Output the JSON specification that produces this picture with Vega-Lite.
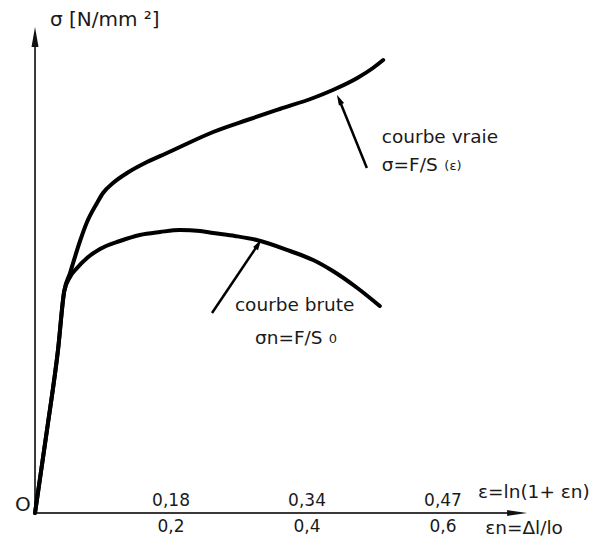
{
  "$schema": "https://vega.github.io/schema/vega-lite/v6.json",
  "width": 589,
  "height": 540,
  "padding": 0,
  "autosize": {"type": "none"},
  "background": "white",
  "config": {"view": {"stroke": null}},
  "datasets": {
    "curves": [
      {"c": "vraie", "i": 0, "en": 0, "s": 0},
      {"c": "vraie", "i": 1, "en": 0.0176, "s": 83},
      {"c": "vraie", "i": 2, "en": 0.0338, "s": 163},
      {"c": "vraie", "i": 3, "en": 0.043, "s": 222},
      {"c": "vraie", "i": 4, "en": 0.0515, "s": 240},
      {"c": "vraie", "i": 6, "en": 0.0662, "s": 272},
      {"c": "vraie", "i": 7, "en": 0.0765, "s": 291},
      {"c": "vraie", "i": 8, "en": 0.0912, "s": 310},
      {"c": "vraie", "i": 9, "en": 0.1, "s": 320},
      {"c": "vraie", "i": 10, "en": 0.1147, "s": 330},
      {"c": "vraie", "i": 11, "en": 0.1353, "s": 340},
      {"c": "vraie", "i": 12, "en": 0.1647, "s": 351},
      {"c": "vraie", "i": 13, "en": 0.194, "s": 360},
      {"c": "vraie", "i": 14, "en": 0.213, "s": 366},
      {"c": "vraie", "i": 15, "en": 0.262, "s": 381},
      {"c": "vraie", "i": 16, "en": 0.312, "s": 393},
      {"c": "vraie", "i": 17, "en": 0.36, "s": 404},
      {"c": "vraie", "i": 18, "en": 0.409, "s": 415},
      {"c": "vraie", "i": 19, "en": 0.438, "s": 423},
      {"c": "vraie", "i": 20, "en": 0.474, "s": 435},
      {"c": "vraie", "i": 21, "en": 0.497, "s": 445},
      {"c": "vraie", "i": 22, "en": 0.512, "s": 453},
      {"c": "brute", "i": 0, "en": 0, "s": 0},
      {"c": "brute", "i": 1, "en": 0.0176, "s": 83},
      {"c": "brute", "i": 2, "en": 0.0338, "s": 163},
      {"c": "brute", "i": 3, "en": 0.043, "s": 222},
      {"c": "brute", "i": 4, "en": 0.0515, "s": 236},
      {"c": "brute", "i": 5, "en": 0.0618, "s": 245},
      {"c": "brute", "i": 6, "en": 0.0765, "s": 255},
      {"c": "brute", "i": 7, "en": 0.0956, "s": 264},
      {"c": "brute", "i": 8, "en": 0.125, "s": 272},
      {"c": "brute", "i": 9, "en": 0.154, "s": 278},
      {"c": "brute", "i": 10, "en": 0.184, "s": 281},
      {"c": "brute", "i": 11, "en": 0.213, "s": 283},
      {"c": "brute", "i": 12, "en": 0.243, "s": 282},
      {"c": "brute", "i": 13, "en": 0.262, "s": 280},
      {"c": "brute", "i": 14, "en": 0.294, "s": 277},
      {"c": "brute", "i": 15, "en": 0.326, "s": 273},
      {"c": "brute", "i": 16, "en": 0.375, "s": 262},
      {"c": "brute", "i": 17, "en": 0.409, "s": 253},
      {"c": "brute", "i": 18, "en": 0.438, "s": 242},
      {"c": "brute", "i": 19, "en": 0.474, "s": 225},
      {"c": "brute", "i": 20, "en": 0.507, "s": 207}
    ],
    "axes": [
      {"a": "x", "en": 0, "s": 0, "en2": 0.70, "s2": 0},
      {"a": "y", "en": 0, "s": 0, "en2": 0, "s2": 470}
    ],
    "axisheads": [
      {"a": "x", "en": 0.709, "s": 0},
      {"a": "y", "en": 0, "s": 476}
    ],
    "pointers": [
      {"c": "vraie", "en": 0.488, "s": 345, "en2": 0.4473, "s2": 413.5},
      {"c": "brute", "en": 0.2603, "s": 200, "en2": 0.3284, "s2": 268.8}
    ],
    "ticks": [
      {"row": "eps", "lab": "0,18", "en": 0.2, "s": 0},
      {"row": "eps", "lab": "0,34", "en": 0.4, "s": 0},
      {"row": "eps", "lab": "0,47", "en": 0.6, "s": 0},
      {"row": "epsn", "lab": "0,2", "en": 0.2, "s": 0},
      {"row": "epsn", "lab": "0,4", "en": 0.4, "s": 0},
      {"row": "epsn", "lab": "0,6", "en": 0.6, "s": 0}
    ],
    "labels": [
      {"k": "main", "t": "courbe vraie", "en": 0.510, "s": 376},
      {"k": "main", "t": "σ=F/S", "en": 0.510, "s": 348},
      {"k": "small", "t": "(ε)", "en": 0.602, "s": 347},
      {"k": "main", "t": "courbe brute", "en": 0.294, "s": 208},
      {"k": "main", "t": "σn=F/S", "en": 0.3235, "s": 175},
      {"k": "small", "t": "0", "en": 0.432, "s": 174},
      {"k": "main", "t": "ε=ln(1+ εn)", "en": 0.6515, "s": 21},
      {"k": "main", "t": "εn=Δl/lo", "en": 0.662, "s": -15},
      {"k": "big", "t": "O", "en": -0.0294, "s": 8},
      {"k": "big", "t": "σ [N/mm ²]", "en": 0.022, "s": 493}
    ]
  },
  "encoding": {
    "x": {"field": "en", "type": "quantitative", "axis": null, "scale": {"domain": [-0.0515, 0.8147], "nice": false, "zero": false}},
    "y": {"field": "s", "type": "quantitative", "axis": null, "scale": {"domain": [-27, 513], "nice": false, "zero": false}}
  },
  "layer": [
    {
      "data": {"name": "axes"},
      "mark": {"type": "rule", "color": "#3a3a3a", "strokeWidth": 2},
      "encoding": {"x2": {"field": "en2"}, "y2": {"field": "s2"}}
    },
    {
      "data": {"name": "axisheads"},
      "transform": [{"filter": "datum.a === 'y'"}],
      "mark": {"type": "point", "shape": "M0,-1L-0.35,1L0.35,1Z", "filled": true, "color": "#111", "opacity": 1, "size": 400, "angle": 0}
    },
    {
      "data": {"name": "axisheads"},
      "transform": [{"filter": "datum.a === 'x'"}],
      "mark": {"type": "point", "shape": "M0,-1L-0.3,1L0.3,1Z", "filled": true, "color": "#111", "opacity": 1, "size": 400, "angle": 90}
    },
    {
      "data": {"name": "curves"},
      "mark": {"type": "line", "color": "black", "strokeWidth": 4, "interpolate": "monotone", "strokeCap": "round", "strokeJoin": "round"},
      "encoding": {"detail": {"field": "c"}, "order": {"field": "i", "type": "quantitative"}}
    },
    {
      "data": {"name": "pointers"},
      "mark": {"type": "rule", "color": "black", "strokeWidth": 2.5},
      "encoding": {"x2": {"field": "en2"}, "y2": {"field": "s2"}}
    },
    {
      "data": {"name": "pointers"},
      "transform": [{"filter": "datum.c === 'vraie'"}],
      "mark": {"type": "point", "shape": "M0,-1L-0.55,1L0.55,1Z", "filled": true, "color": "black", "opacity": 1, "size": 110, "angle": 334},
      "encoding": {"x": {"field": "en2", "type": "quantitative"}, "y": {"field": "s2", "type": "quantitative"}}
    },
    {
      "data": {"name": "pointers"},
      "transform": [{"filter": "datum.c === 'brute'"}],
      "mark": {"type": "point", "shape": "M0,-1L-0.55,1L0.55,1Z", "filled": true, "color": "black", "opacity": 1, "size": 110, "angle": 32},
      "encoding": {"x": {"field": "en2", "type": "quantitative"}, "y": {"field": "s2", "type": "quantitative"}}
    },
    {
      "data": {"name": "ticks"},
      "transform": [{"filter": "datum.row === 'eps'"}],
      "mark": {"type": "text", "font": "DejaVu Sans", "fontSize": 17, "color": "#1a1a1a", "align": "center", "baseline": "middle", "dy": -12},
      "encoding": {"text": {"field": "lab", "type": "nominal"}}
    },
    {
      "data": {"name": "ticks"},
      "transform": [{"filter": "datum.row === 'epsn'"}],
      "mark": {"type": "text", "font": "DejaVu Sans", "fontSize": 17, "color": "#1a1a1a", "align": "center", "baseline": "middle", "dy": 14},
      "encoding": {"text": {"field": "lab", "type": "nominal"}}
    },
    {
      "data": {"name": "labels"},
      "transform": [{"filter": "datum.k === 'main'"}],
      "mark": {"type": "text", "font": "DejaVu Sans", "fontSize": 18.5, "color": "#1a1a1a", "align": "left", "baseline": "middle"},
      "encoding": {"text": {"field": "t", "type": "nominal"}}
    },
    {
      "data": {"name": "labels"},
      "transform": [{"filter": "datum.k === 'small'"}],
      "mark": {"type": "text", "font": "DejaVu Sans", "fontSize": 13, "color": "#1a1a1a", "align": "left", "baseline": "middle"},
      "encoding": {"text": {"field": "t", "type": "nominal"}}
    },
    {
      "data": {"name": "labels"},
      "transform": [{"filter": "datum.k === 'big'"}],
      "mark": {"type": "text", "font": "DejaVu Sans", "fontSize": 20, "color": "#1a1a1a", "align": "left", "baseline": "middle"},
      "encoding": {"text": {"field": "t", "type": "nominal"}}
    }
  ]
}
